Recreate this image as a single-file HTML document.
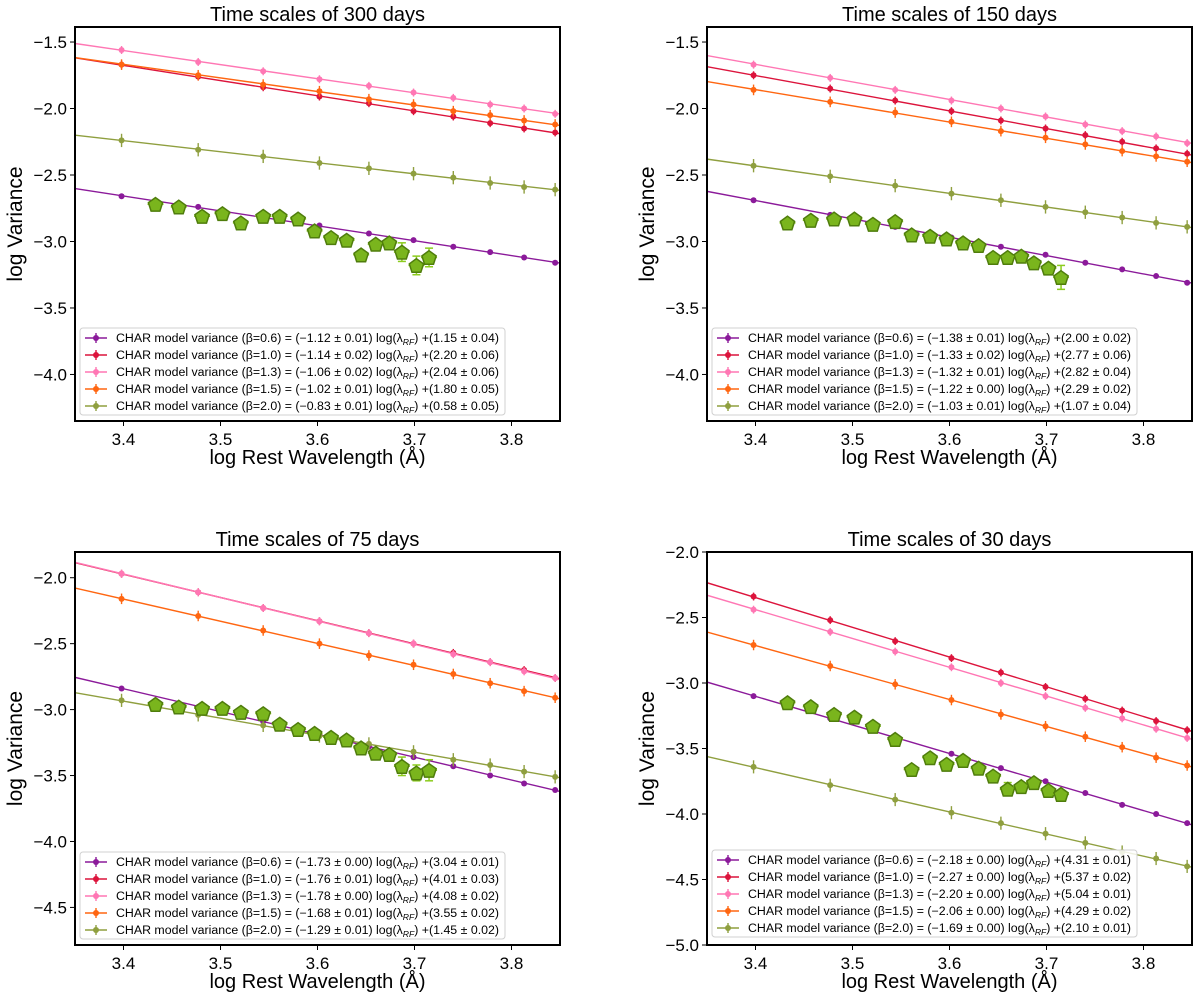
<!DOCTYPE html>
<html><head><meta charset="utf-8"><style>
body{margin:0;background:#fff;}
svg{display:block;font-family:"Liberation Sans","DejaVu Sans",sans-serif;}
</style></head><body>
<svg id="fig" width="1200" height="998" viewBox="0 0 1200 998" xmlns="http://www.w3.org/2000/svg"></svg>
<script>
// ---------- data ----------
const xModel = [3.398,3.477,3.544,3.602,3.653,3.699,3.740,3.778,3.813,3.845];
const xObs = [3.433,3.457,3.481,3.502,3.521,3.544,3.561,3.580,3.597,3.614,3.630,3.645,3.660,3.674,3.687,3.702,3.715];
const betas = ["0.6","1.0","1.3","1.5","2.0"];
const titles = ["Time scales of 300 days","Time scales of 150 days","Time scales of 75 days","Time scales of 30 days"];
const slopeErrText = [
 [["−1.12 ± 0.01","1.15 ± 0.04"],["−1.14 ± 0.02","2.20 ± 0.06"],["−1.06 ± 0.02","2.04 ± 0.06"],["−1.02 ± 0.01","1.80 ± 0.05"],["−0.83 ± 0.01","0.58 ± 0.05"]],
 [["−1.38 ± 0.01","2.00 ± 0.02"],["−1.33 ± 0.02","2.77 ± 0.06"],["−1.32 ± 0.01","2.82 ± 0.04"],["−1.22 ± 0.00","2.29 ± 0.02"],["−1.03 ± 0.01","1.07 ± 0.04"]],
 [["−1.73 ± 0.00","3.04 ± 0.01"],["−1.76 ± 0.01","4.01 ± 0.03"],["−1.78 ± 0.00","4.08 ± 0.02"],["−1.68 ± 0.01","3.55 ± 0.02"],["−1.29 ± 0.01","1.45 ± 0.02"]],
 [["−2.18 ± 0.00","4.31 ± 0.01"],["−2.27 ± 0.00","5.37 ± 0.02"],["−2.20 ± 0.00","5.04 ± 0.01"],["−2.06 ± 0.00","4.29 ± 0.02"],["−1.69 ± 0.00","2.10 ± 0.01"]]
];
const slopes = [[-1.12,-1.14,-1.06,-1.02,-0.83],[-1.38,-1.33,-1.32,-1.22,-1.03],[-1.73,-1.76,-1.78,-1.68,-1.29],[-2.18,-2.27,-2.20,-2.06,-1.69]];
const intercepts = [[1.15,2.20,2.04,1.80,0.58],[2.00,2.77,2.82,2.29,1.07],[3.04,4.01,4.08,3.55,1.45],[4.31,5.37,5.04,4.29,2.10]];
const modelP1 = [
 [-2.66,-2.74,-2.82,-2.88,-2.94,-2.99,-3.04,-3.08,-3.12,-3.16],
 [-1.67,-1.76,-1.84,-1.91,-1.96,-2.02,-2.06,-2.11,-2.15,-2.18],
 [-1.56,-1.65,-1.72,-1.78,-1.83,-1.88,-1.92,-1.97,-2.00,-2.04],
 [-1.67,-1.75,-1.82,-1.87,-1.93,-1.97,-2.02,-2.05,-2.09,-2.12],
 [-2.24,-2.31,-2.36,-2.41,-2.45,-2.49,-2.52,-2.56,-2.59,-2.61]];
const modelP2 = [
 [-2.69,-2.80,-2.89,-2.97,-3.04,-3.10,-3.16,-3.21,-3.26,-3.31],
 [-1.75,-1.85,-1.94,-2.02,-2.09,-2.15,-2.20,-2.25,-2.30,-2.34],
 [-1.67,-1.77,-1.86,-1.94,-2.00,-2.06,-2.12,-2.17,-2.21,-2.26],
 [-1.86,-1.95,-2.03,-2.10,-2.17,-2.22,-2.27,-2.32,-2.36,-2.40],
 [-2.43,-2.51,-2.58,-2.64,-2.69,-2.74,-2.78,-2.82,-2.86,-2.89]];
const modelP3 = [
 [-2.84,-2.98,-3.09,-3.19,-3.28,-3.36,-3.43,-3.50,-3.56,-3.61],
 [-1.97,-2.11,-2.23,-2.33,-2.42,-2.50,-2.57,-2.64,-2.70,-2.76],
 [-1.97,-2.11,-2.23,-2.33,-2.42,-2.50,-2.58,-2.64,-2.71,-2.76],
 [-2.16,-2.29,-2.40,-2.50,-2.59,-2.66,-2.73,-2.80,-2.86,-2.91],
 [-2.93,-3.04,-3.12,-3.20,-3.26,-3.32,-3.38,-3.42,-3.47,-3.51]];
const modelP4 = [
 [-3.10,-3.27,-3.42,-3.54,-3.65,-3.75,-3.84,-3.93,-4.00,-4.07],
 [-2.34,-2.52,-2.68,-2.81,-2.92,-3.03,-3.12,-3.21,-3.29,-3.36],
 [-2.44,-2.61,-2.76,-2.88,-3.00,-3.10,-3.19,-3.27,-3.35,-3.42],
 [-2.71,-2.87,-3.01,-3.13,-3.24,-3.33,-3.41,-3.49,-3.57,-3.63],
 [-3.64,-3.78,-3.89,-3.99,-4.07,-4.15,-4.22,-4.29,-4.34,-4.40]];
const modelErr = [0.015,0.03,0.03,0.04,0.05];
const obsP1 = [-2.72,-2.74,-2.81,-2.79,-2.86,-2.81,-2.81,-2.83,-2.92,-2.97,-2.99,-3.10,-3.02,-3.01,-3.08,-3.18,-3.12];
const obsP2 = [-2.86,-2.84,-2.83,-2.83,-2.87,-2.85,-2.95,-2.96,-2.98,-3.01,-3.03,-3.12,-3.12,-3.11,-3.16,-3.20,-3.27];
const obsP3 = [-2.96,-2.98,-2.99,-2.99,-3.02,-3.03,-3.11,-3.15,-3.18,-3.21,-3.23,-3.29,-3.33,-3.34,-3.43,-3.48,-3.46];
const obsP4 = [-3.15,-3.18,-3.24,-3.26,-3.33,-3.43,-3.66,-3.57,-3.62,-3.59,-3.65,-3.71,-3.81,-3.79,-3.76,-3.82,-3.85];
const errP1 = [0.01,0.01,0.02,0.01,0.01,0.02,0.01,0.01,0.02,0.01,0.01,0.01,0.02,0.02,0.07,0.07,0.07];
const errP2 = [0.01,0.01,0.01,0.01,0.01,0.01,0.01,0.01,0.01,0.01,0.01,0.01,0.01,0.01,0.01,0.03,0.09];
const errP3 = [0.01,0.01,0.02,0.01,0.01,0.02,0.01,0.01,0.02,0.01,0.01,0.01,0.01,0.01,0.07,0.06,0.08];
const errP4 = [0.01,0.01,0.01,0.01,0.01,0.01,0.01,0.01,0.01,0.01,0.01,0.02,0.05,0.01,0.01,0.01,0.01];
const xTicks = [3.4,3.5,3.6,3.7,3.8];
const yTicksTop = [-1.5,-2.0,-2.5,-3.0,-3.5,-4.0];
const yTicksP3 = [-2.0,-2.5,-3.0,-3.5,-4.0,-4.5];
const yTicksP4 = [-2.0,-2.5,-3.0,-3.5,-4.0,-4.5,-5.0];

// ---------- layout ----------
const colors = ["#8b1a9a","#dc143c","#ff77b4","#ff6611","#8f9f3f"];
const panels = [
 {x0:75,x1:560,y0:27,y1:421,ymin:-4.35,ymax:-1.387,yt:yTicksTop,model:modelP1,obs:obsP1,err:errP1,leg:{x:80,y:328,w:425}},
 {x0:707,x1:1192,y0:27,y1:421,ymin:-4.35,ymax:-1.387,yt:yTicksTop,model:modelP2,obs:obsP2,err:errP2,leg:{x:712,y:328,w:425}},
 {x0:75,x1:560,y0:552,y1:945,ymin:-4.785,ymax:-1.805,yt:yTicksP3,model:modelP3,obs:obsP3,err:errP3,leg:{x:80,y:852,w:425}},
 {x0:707,x1:1192,y0:552,y1:945,ymin:-5.0,ymax:-2.0,yt:yTicksP4,model:modelP4,obs:obsP4,err:errP4,leg:{x:712,y:850,w:425}}
];
const NS="http://www.w3.org/2000/svg";
const fig=document.getElementById('fig');
function mk(tag,attrs,parent){const e=document.createElementNS(NS,tag);for(const k in attrs)e.setAttribute(k,attrs[k]);(parent||fig).appendChild(e);return e;}
function fmt(v){return (v<0?"−":"")+Math.abs(v).toFixed(1);}
function pentagon(cx,cy,r){let p=[];for(let i=0;i<5;i++){const a=-Math.PI/2+i*2*Math.PI/5;p.push((cx+r*Math.cos(a)).toFixed(1)+","+(cy+r*Math.sin(a)).toFixed(1));}return p.join(" ");}

panels.forEach((P,pi)=>{
  const g=mk('g',{});
  
  
  const sx=v=>P.x0+(v-3.35)/(0.5)*(P.x1-P.x0);
  const sy=v=>P.y0+(P.ymax-v)/(P.ymax-P.ymin)*(P.y1-P.y0);
  const clip=mk('clipPath',{id:'c'+pi},g);
  mk('rect',{x:P.x0,y:P.y0,width:P.x1-P.x0,height:P.y1-P.y0},clip);
  const plot=mk('g',{'clip-path':'url(#c'+pi+')'},g);
  const t=mk('text',{x:(P.x0+P.x1)/2,y:P.y0-6,'text-anchor':'middle','font-size':20},g);
  t.textContent=titles[pi];
  
  
  for(let s=0;s<5;s++){
    const sg=mk('g',{},plot);
    
    
    const m=slopes[pi][s],b=intercepts[pi][s];
    mk('line',{x1:sx(3.35),y1:sy(m*3.35+b),x2:sx(3.85),y2:sy(m*3.85+b),stroke:colors[s],'stroke-width':1.4},sg);
    P.model[s].forEach((v,i)=>{
      const e=modelErr[s];
      mk('line',{x1:sx(xModel[i]),x2:sx(xModel[i]),y1:sy(v+e),y2:sy(v-e),stroke:colors[s],'stroke-width':1.4},sg);
      const c=mk('circle',{cx:sx(xModel[i]),cy:sy(v),r:3,fill:colors[s]},sg);
      
      
    });
  }
  const og=mk('g',{},plot);
  
  
  P.obs.forEach((v,i)=>{
    const X=sx(xObs[i]),e=P.err[i];
    if(e>0.015){
      mk('line',{x1:X,x2:X,y1:sy(v+e),y2:sy(v-e),stroke:'#8ccc1e','stroke-width':1.5},og);
      mk('line',{x1:X-4,x2:X+4,y1:sy(v+e),y2:sy(v+e),stroke:'#8ccc1e','stroke-width':1.5},og);
      mk('line',{x1:X-4,x2:X+4,y1:sy(v-e),y2:sy(v-e),stroke:'#8ccc1e','stroke-width':1.5},og);
    }
    mk('line',{x1:X-8,x2:X+8,y1:sy(v),y2:sy(v),stroke:'#8ccc1e','stroke-width':1.5},og);
    const pg=mk('polygon',{points:pentagon(X,sy(v)+0.8,7.5),fill:'#7ab51d',stroke:'#4f7d0c','stroke-width':1.5},og);
    
    
  });
  mk('rect',{x:P.x0,y:P.y0,width:P.x1-P.x0,height:P.y1-P.y0,fill:'none',stroke:'#000','stroke-width':2},g);
  xTicks.forEach(v=>{
    mk('line',{x1:sx(v),x2:sx(v),y1:P.y1,y2:P.y1+5,stroke:'#000','stroke-width':1},g);
    const tt=mk('text',{x:sx(v),y:P.y1+24,'text-anchor':'middle','font-size':17},g);
    tt.textContent=v.toFixed(1);
    
    
  });
  P.yt.forEach(v=>{
    mk('line',{x1:P.x0-5,x2:P.x0,y1:sy(v),y2:sy(v),stroke:'#000','stroke-width':1},g);
    const tt=mk('text',{x:P.x0-8,y:sy(v)+6,'text-anchor':'end','font-size':17},g);
    tt.textContent=fmt(v);
    
    
  });
  const xl=mk('text',{x:(P.x0+P.x1)/2,y:P.y1+43,'text-anchor':'middle','font-size':20},g);
  xl.textContent="log Rest Wavelength (Å)";
  
  
  const yc=(P.y0+P.y1)/2;
  const yl=mk('text',{x:P.x0-53,y:yc,'text-anchor':'middle','font-size':21,transform:'rotate(-90 '+(P.x0-53)+' '+yc+')'},g);
  yl.textContent="log Variance";
  
  
  const L=P.leg;
  const lg=mk('g',{},g);
  
  
  mk('rect',{x:L.x,y:L.y,width:L.w,height:87,rx:3,fill:'#fff','fill-opacity':0.85,stroke:'#d0d0d0','stroke-width':1},lg);
  for(let s=0;s<5;s++){
    const ry=L.y+10+s*17;
    const eg=mk('g',{},lg);
    
    
    mk('line',{x1:L.x+5,x2:L.x+27,y1:ry,y2:ry,stroke:colors[s],'stroke-width':1.4},eg);
    mk('line',{x1:L.x+16,x2:L.x+16,y1:ry-5,y2:ry+5,stroke:colors[s],'stroke-width':1.4},eg);
    mk('circle',{cx:L.x+16,cy:ry,r:3,fill:colors[s]},eg);
    const tx=mk('text',{x:L.x+36,y:ry+4,'font-size':11.5,textLength:L.w-42,lengthAdjust:'spacingAndGlyphs'},eg);
    tx.appendChild(document.createTextNode("CHAR model variance (β="+betas[s]+") = ("+slopeErrText[pi][s][0]+") log(λ"));
    const sub=mk('tspan',{'font-size':8,'font-style':'italic',dy:3},tx);
    sub.textContent="RF";
    const rest=mk('tspan',{dy:-3},tx);
    rest.textContent=") +("+slopeErrText[pi][s][1]+")";
  }
});
</script>
</body></html>
